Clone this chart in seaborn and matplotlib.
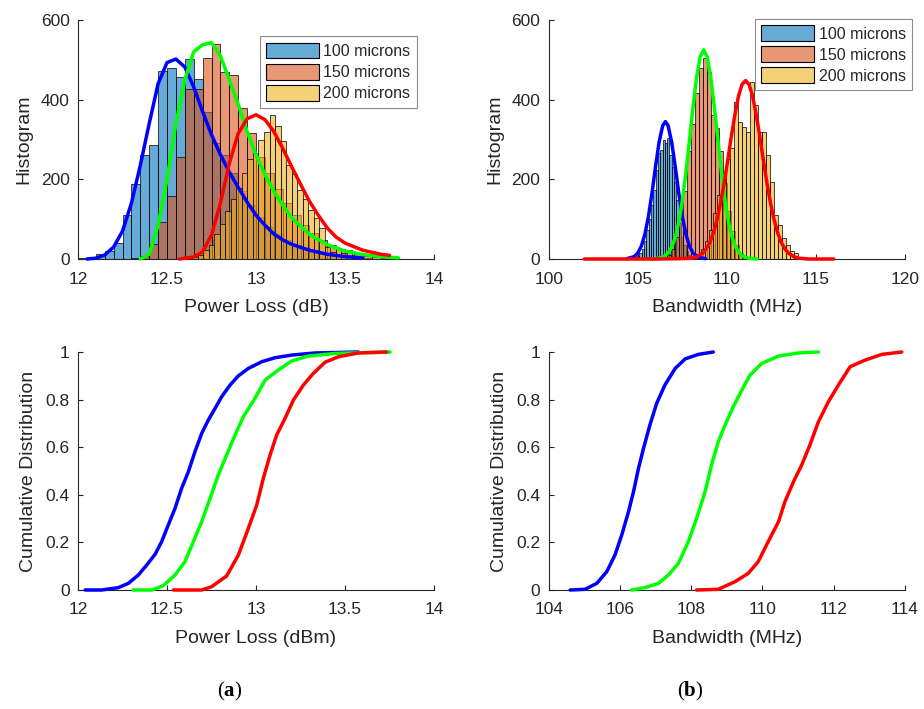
import numpy as np
import pandas as pd
import matplotlib
matplotlib.use("Agg")
import matplotlib.pyplot as plt
import seaborn as sns
from matplotlib.patches import Patch
from matplotlib.colors import to_rgba

sns.set_style("ticks")
plt.rcParams['font.family'] = ['Liberation Sans', 'DejaVu Sans']
plt.rcParams['mathtext.fontset'] = 'custom'
plt.rcParams['mathtext.rm'] = 'Liberation Serif'
plt.rcParams['mathtext.bf'] = 'Liberation Serif:bold'

labels = ["100 microns", "150 microns", "200 microns"]
hist_colors = ["#0072BD", "#D95319", "#EDB120"]
line_colors = ["#0000FF", "#00FF00", "#FF0000"]

# ---------------- Power loss histograms (top-left) ----------------
pl_bin_start = [12.0, 12.3, 12.58]
pl_bin_width = [0.05, 0.05, 0.031]
pl_counts_100 = [2, 2, 13, 20, 40, 111, 189, 260, 287, 473, 479, 458, 501, 451, 370, 292,
                 260, 216, 170, 135, 105, 80, 62, 47, 35, 26, 19, 14, 10, 7, 5, 3, 2]
pl_counts_150 = [3, 8, 38, 94, 157, 255, 427, 428, 504, 541, 470, 462, 378, 316, 255, 215,
                 175, 140, 110, 85, 65, 48, 35, 25, 18, 12, 8, 5, 3]
pl_counts_200 = [1, 3, 6, 10, 23, 35, 64, 87, 120, 150, 178, 215, 250, 266, 300, 320, 362,
                 334, 295, 235, 214, 173, 150, 123, 102, 77, 31, 18, 27, 15, 23, 5]

# fitted curves (power loss)
pl_fit_x_100 = [12.05, 12.1, 12.15, 12.2, 12.25, 12.3, 12.35, 12.4, 12.45, 12.5, 12.55, 12.6,
                12.65, 12.7, 12.75, 12.8, 12.85, 12.9, 12.95, 13.0, 13.05, 13.1, 13.15, 13.2,
                13.3, 13.4, 13.5, 13.6]
pl_fit_y_100 = [0, 2, 10, 30, 70, 140, 235, 340, 440, 493, 502, 482, 432, 370, 312, 262, 218,
                180, 143, 110, 85, 63, 48, 37, 22, 12, 6, 3]
pl_fit_x_150 = [12.35, 12.4, 12.45, 12.5, 12.55, 12.6, 12.65, 12.7, 12.75, 12.8, 12.85, 12.9,
                12.95, 13.0, 13.05, 13.1, 13.15, 13.2, 13.3, 13.4, 13.5, 13.6, 13.7, 13.8]
pl_fit_y_150 = [0, 12, 85, 200, 340, 450, 520, 538, 543, 510, 450, 388, 320, 262, 212, 170,
                135, 104, 62, 36, 20, 11, 6, 3]
pl_fit_x_200 = [12.57, 12.65, 12.7, 12.75, 12.8, 12.85, 12.9, 12.95, 13.0, 13.05, 13.1, 13.15,
                13.2, 13.25, 13.3, 13.35, 13.4, 13.45, 13.5, 13.6, 13.7, 13.75]
pl_fit_y_200 = [0, 5, 18, 60, 140, 240, 315, 352, 362, 350, 320, 278, 232, 188, 145, 110, 78,
                55, 40, 22, 12, 9]

# ---------------- Bandwidth histograms (top-right) ----------------
bw_bin_start = [104.7, 106.4, 107.9]
bw_bin_width = [0.13, 0.225, 0.225]
bw_counts_100 = [2, 4, 8, 14, 25, 45, 73, 100, 135, 173, 224, 265, 274, 299, 291, 303, 262,
                 232, 194, 148, 90, 56, 35, 20, 10, 5, 2, 1]
bw_counts_150 = [3, 10, 25, 55, 100, 170, 270, 340, 416, 480, 505, 470, 362, 330, 270, 190,
                 120, 70, 35, 15, 5, 2]
bw_counts_200 = [3, 6, 12, 25, 45, 73, 115, 160, 215, 250, 278, 395, 345, 332, 320, 445, 387,
                 320, 320, 261, 194, 111, 85, 52, 36, 19, 15, 3]

bw_fit_x_100 = [104.4, 104.8, 105.0, 105.2, 105.4, 105.6, 105.8, 106.0, 106.2, 106.4, 106.55,
                106.7, 106.9, 107.1, 107.3, 107.5, 107.7, 107.9, 108.1, 108.4, 108.8]
bw_fit_y_100 = [1, 6, 15, 32, 62, 107, 166, 233, 294, 335, 345, 335, 294, 233, 166, 107, 62,
                32, 15, 4, 1]
bw_fit_x_150 = [105.7, 106.2, 106.5, 106.7, 106.9, 107.1, 107.3, 107.5, 107.7, 107.9, 108.1,
                108.3, 108.5, 108.7, 108.9, 109.1, 109.3, 109.5, 109.7, 109.9, 110.1, 110.3,
                110.5, 110.7, 110.9, 111.2, 111.7]
bw_fit_y_150 = [0, 2, 7, 15, 29, 54, 92, 146, 216, 297, 381, 455, 507, 525, 507, 455, 381,
                297, 216, 146, 92, 54, 29, 15, 7, 2, 0]
bw_fit_x_200 = [102.0, 106.0, 107.5, 108.05, 108.35, 108.65, 108.85, 109.05, 109.25, 109.45,
                109.65, 109.85, 110.05, 110.25, 110.45, 110.65, 110.85, 111.05, 111.25, 111.45,
                111.65, 111.85, 112.05, 112.25, 112.45, 112.65, 112.85, 113.05, 113.25, 113.45,
                113.75, 114.05, 114.6, 116.0]
bw_fit_y_200 = [0, 0, 1, 2, 6, 15, 26, 42, 66, 99, 141, 191, 248, 307, 362, 408, 438, 448, 438,
                408, 362, 307, 248, 191, 141, 99, 66, 42, 26, 15, 6, 2, 0, 0]

# ---------------- CDFs (bottom) ----------------
pl_cdf_x_100 = [12.04, 12.133, 12.227, 12.283, 12.339, 12.386, 12.433, 12.47, 12.507, 12.545,
                12.582, 12.62, 12.657, 12.695, 12.732, 12.77, 12.807, 12.854, 12.901, 12.957,
                13.032, 13.107, 13.2, 13.331, 13.575]
pl_cdf_y_100 = [0, 0, 0.01, 0.028, 0.063, 0.105, 0.15, 0.203, 0.273, 0.343, 0.427, 0.497,
                0.581, 0.658, 0.714, 0.763, 0.812, 0.861, 0.9, 0.931, 0.959, 0.976, 0.987,
                0.996, 1.0]
pl_cdf_x_150 = [12.31, 12.414, 12.479, 12.545, 12.601, 12.648, 12.695, 12.742, 12.788, 12.835,
                12.882, 12.929, 12.994, 13.051, 13.125, 13.2, 13.294, 13.444, 13.753]
pl_cdf_y_150 = [0, 0, 0.018, 0.063, 0.119, 0.203, 0.287, 0.385, 0.483, 0.567, 0.651, 0.728,
                0.805, 0.882, 0.924, 0.962, 0.983, 0.994, 1.0]
pl_cdf_x_200 = [12.536, 12.695, 12.751, 12.835, 12.901, 12.957, 13.004, 13.041, 13.079, 13.116,
                13.163, 13.21, 13.266, 13.322, 13.388, 13.463, 13.575, 13.734]
pl_cdf_y_200 = [0, 0, 0.014, 0.059, 0.147, 0.259, 0.357, 0.469, 0.567, 0.651, 0.721, 0.798,
                0.861, 0.91, 0.957, 0.98, 0.996, 1.0]

bw_cdf_x_100 = [104.6, 105.02, 105.35, 105.63, 105.86, 106.05, 106.24, 106.38, 106.52, 106.66,
                106.84, 107.03, 107.26, 107.55, 107.83, 108.2, 108.62]
bw_cdf_y_100 = [0, 0.003, 0.028, 0.077, 0.147, 0.231, 0.329, 0.413, 0.511, 0.595, 0.693,
                0.784, 0.861, 0.931, 0.971, 0.99, 1.0]
bw_cdf_x_150 = [106.33, 106.7, 107.08, 107.36, 107.64, 107.92, 108.15, 108.39, 108.57, 108.76,
                108.95, 109.18, 109.42, 109.65, 109.98, 110.45, 111.01, 111.57]
bw_cdf_y_150 = [0, 0.01, 0.028, 0.063, 0.112, 0.203, 0.301, 0.413, 0.525, 0.623, 0.693, 0.77,
                0.84, 0.903, 0.952, 0.983, 0.996, 1.0]
bw_cdf_x_200 = [108.15, 108.76, 109.23, 109.6, 109.88, 110.16, 110.45, 110.63, 110.87, 111.1,
                111.33, 111.57, 111.85, 112.13, 112.46, 112.88, 113.35, 113.91]
bw_cdf_y_200 = [0, 0.003, 0.035, 0.07, 0.119, 0.203, 0.287, 0.371, 0.455, 0.525, 0.609, 0.707,
                0.791, 0.861, 0.938, 0.966, 0.99, 1.0]

INK = "#262626"


def style_axes(ax, xlim, ylim, xticks, yticks):
    ax.set_xlim(*xlim)
    ax.set_ylim(*ylim)
    ax.set_xticks(xticks)
    ax.set_yticks(yticks)
    sns.despine(ax=ax)
    for s in ("left", "bottom"):
        ax.spines[s].set_color(INK)
        ax.spines[s].set_linewidth(0.8)
    ax.tick_params(direction="in", length=3.5, width=0.8, color=INK, labelcolor=INK,
                   labelsize=12.5)
    ax.tick_params(axis="x", pad=9)
    ax.tick_params(axis="y", pad=6)
    ax.set_facecolor("white")


def draw_hist(ax, start, width, counts, color):
    counts = np.asarray(counts, dtype=float)
    lefts = start + width * np.arange(len(counts))
    edges = np.append(lefts, lefts[-1] + width)
    df = pd.DataFrame({"x": lefts + width / 2, "w": counts})
    sns.histplot(data=df, x="x", weights="w", bins=edges.tolist(), color=color, alpha=0.6,
                 edgecolor="black", linewidth=0.5, ax=ax)


def draw_line(ax, x, y, color):
    sns.lineplot(x=x, y=y, color=color, linewidth=2.5, ax=ax, sort=False, estimator=None,
                 legend=False, zorder=5)


def add_legend(ax, anchor):
    handles = [Patch(facecolor=to_rgba(c, 0.6), edgecolor="black", linewidth=0.8, label=l)
               for c, l in zip(hist_colors, labels)]
    leg = ax.legend(handles=handles, loc="upper right", bbox_to_anchor=anchor, fontsize=11.5,
                    frameon=True, fancybox=False, edgecolor="#8c8c8c", framealpha=1,
                    handlelength=3.3, handleheight=1.15, labelspacing=0.3, handletextpad=0.3,
                    borderpad=0.4, borderaxespad=0)
    leg.get_frame().set_linewidth(0.8)
    leg.set_zorder(10)


fig = plt.figure(figsize=(9.24, 7.09), dpi=100)
W, H = 924, 709


def axes_px(x0, x1, ytop, ybot):
    return fig.add_axes([x0 / W, 1 - ybot / H, (x1 - x0) / W, (ybot - ytop) / H])


ax1 = axes_px(78, 434, 20, 259)
ax2 = axes_px(548.7, 905, 20, 259)
ax3 = axes_px(78, 434, 352, 590)
ax4 = axes_px(548.7, 905, 352, 590)

# top-left
for s, w, c, col in zip(pl_bin_start, pl_bin_width, [pl_counts_100, pl_counts_150, pl_counts_200],
                        hist_colors):
    draw_hist(ax1, s, w, c, col)
for x, y, col in zip([pl_fit_x_100, pl_fit_x_150, pl_fit_x_200],
                     [pl_fit_y_100, pl_fit_y_150, pl_fit_y_200], line_colors):
    draw_line(ax1, x, y, col)
style_axes(ax1, (12, 14), (0, 600), [12, 12.5, 13, 13.5, 14], [0, 200, 400, 600])
ax1.set_xticklabels(["12", "12.5", "13", "13.5", "14"])
ax1.set_xlabel("Power Loss (dB)", fontsize=14, color=INK, labelpad=9)
ax1.set_ylabel("Histogram", fontsize=14, color=INK, labelpad=6)
add_legend(ax1, (0.952, 0.932))

# top-right
for s, w, c, col in zip(bw_bin_start, bw_bin_width, [bw_counts_100, bw_counts_150, bw_counts_200],
                        hist_colors):
    draw_hist(ax2, s, w, c, col)
for x, y, col in zip([bw_fit_x_100, bw_fit_x_150, bw_fit_x_200],
                     [bw_fit_y_100, bw_fit_y_150, bw_fit_y_200], line_colors):
    draw_line(ax2, x, y, col)
style_axes(ax2, (100, 120), (0, 600), [100, 105, 110, 115, 120], [0, 200, 400, 600])
ax2.set_xlabel("Bandwidth (MHz)", fontsize=14, color=INK, labelpad=9)
ax2.set_ylabel("Histogram", fontsize=14, color=INK, labelpad=6)
add_legend(ax2, (1.02, 1.005))

# bottom-left
for x, y, col in zip([pl_cdf_x_100, pl_cdf_x_150, pl_cdf_x_200],
                     [pl_cdf_y_100, pl_cdf_y_150, pl_cdf_y_200], line_colors):
    draw_line(ax3, x, y, col)
style_axes(ax3, (12, 14), (0, 1), [12, 12.5, 13, 13.5, 14], [0, 0.2, 0.4, 0.6, 0.8, 1])
ax3.set_xticklabels(["12", "12.5", "13", "13.5", "14"])
ax3.set_yticklabels(["0", "0.2", "0.4", "0.6", "0.8", "1"])
ax3.set_xlabel("Power Loss (dBm)", fontsize=14, color=INK, labelpad=9)
ax3.set_ylabel("Cumulative Distribution", fontsize=14, color=INK, labelpad=6)

# bottom-right
for x, y, col in zip([bw_cdf_x_100, bw_cdf_x_150, bw_cdf_x_200],
                     [bw_cdf_y_100, bw_cdf_y_150, bw_cdf_y_200], line_colors):
    draw_line(ax4, x, y, col)
style_axes(ax4, (104, 114), (0, 1), [104, 106, 108, 110, 112, 114], [0, 0.2, 0.4, 0.6, 0.8, 1])
ax4.set_yticklabels(["0", "0.2", "0.4", "0.6", "0.8", "1"])
ax4.set_xlabel("Bandwidth (MHz)", fontsize=14, color=INK, labelpad=9)
ax4.set_ylabel("Cumulative Distribution", fontsize=14, color=INK, labelpad=6)

for ax in (ax1, ax2, ax3, ax4):
    for line in ax.lines:
        line.set_clip_on(False)

fig.text(230 / W, 1 - 691 / H, r"($\mathbf{a}$)", fontsize=15, ha="center", va="center",
         family="Liberation Serif", color="black")
fig.text(690 / W, 1 - 691 / H, r"($\mathbf{b}$)", fontsize=15, ha="center", va="center",
         family="Liberation Serif", color="black")

fig.savefig("out.png", dpi=100, facecolor="white")
